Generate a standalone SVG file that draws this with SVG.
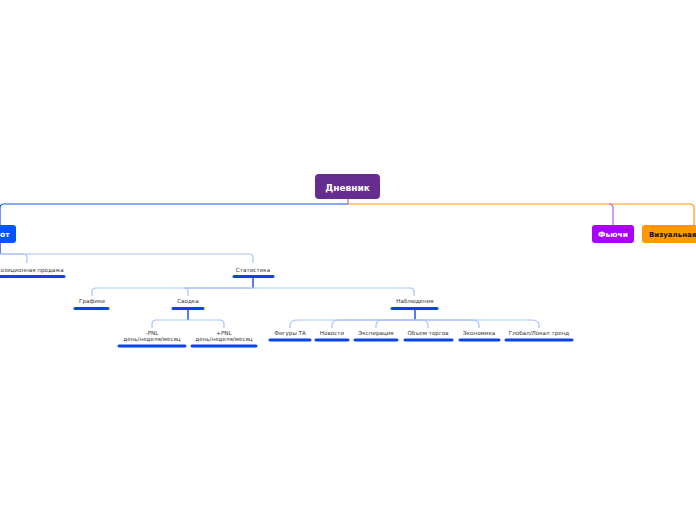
<svg xmlns="http://www.w3.org/2000/svg" width="696" height="520" viewBox="0 0 696 520">
<style>
.lbl{font-family:"DejaVu Sans",Verdana,sans-serif;font-size:5.6px;fill:#333;text-anchor:middle}
.bar{stroke:#0b45e8;stroke-width:3;stroke-linecap:round}
.lc{fill:none;stroke:#a8c0f8;stroke-width:1.2}
.dc{fill:none;stroke:#0b45e8;stroke-width:1.4}
.bt{font-family:"DejaVu Sans",Verdana,sans-serif;font-weight:bold;font-size:7.5px}
</style>
<rect width="696" height="520" fill="#fff"/>
<g id="connectors">
<path d="M348,199 V204" stroke="#c0707a" stroke-width="1.2" fill="none"/>
<path d="M348,204 H4 Q0,204 0,208 V225" fill="none" stroke="#1050f0" stroke-width="1.2"/>
<path d="M348,204 H690 Q694,204 694,208 V225" fill="none" stroke="#ff9900" stroke-width="1.2"/>
<path d="M609,204 Q613,204 613,208 V225" fill="none" stroke="#cc77ff" stroke-width="1.5"/>
<path d="M0,243 V254" class="dc"/>
<path d="M0,254 H23 Q27,254 27,258 V263" class="lc"/>
<path d="M0,254 H249 Q253,254 253,258 V263" class="lc"/>
<path d="M253,277 V288" class="dc"/>
<path d="M253,288 H96 Q92,288 92,292 V296" class="lc"/>
<path d="M253,288 H184 Q188,288 188,292 V296" class="lc"/>
<path d="M253,288 H410 Q414,288 414,292 V296" class="lc"/>
<path d="M188,309 V320" class="dc"/>
<path d="M188,320 H156 Q152,320 152,324 V328" class="lc"/>
<path d="M188,320 H220 Q224,320 224,324 V328" class="lc"/>
<path d="M415,309 V320" class="dc"/>
<path d="M415,320 H298 Q290,320 290,325 V328" class="lc"/>
<path d="M415,320 H340 Q332,320 332,325 V328" class="lc"/>
<path d="M415,320 H384 Q376,320 376,325 V328" class="lc"/>
<path d="M415,320 H420 Q428,320 428,325 V328" class="lc"/>
<path d="M415,320 H471 Q479,320 479,325 V328" class="lc"/>
<path d="M415,320 H531 Q539,320 539,325 V328" class="lc"/>
</g>
<g id="root">
<rect x="315" y="174" width="65" height="25" rx="4" fill="#662d91"/>
<text x="347.5" y="190.5" text-anchor="middle" fill="#fff" class="bt" style="font-size:9px">Дневник</text>
</g>
<g id="node-ot">
<rect x="-10" y="225" width="26" height="18" rx="3" fill="#0055ff"/>
<text x="0" y="237" fill="#fff" class="bt">от</text>
</g>
<g id="node-futures">
<rect x="592" y="225" width="42" height="18" rx="3" fill="#aa00ff"/>
<text x="613" y="237" text-anchor="middle" fill="#fff" class="bt">Фьючи</text>
</g>
<g id="node-visual">
<rect x="642" y="225" width="70" height="18" rx="3" fill="#ff9900"/>
<text x="649" y="237" fill="#111" class="bt" style="font-size:7px">Визуальная</text>
</g>
<g id="node-pos">
<text x="0.5" y="272" class="lbl" style="text-anchor:start">озиционная продажа</text>
<line x1="0" y1="276.5" x2="64" y2="276.5" class="bar"/>
</g>
<g id="node-stat">
<text x="253" y="272" class="lbl">Статистика</text>
<line x1="234" y1="276.5" x2="273" y2="276.5" class="bar"/>
</g>
<g id="node-graphs">
<text x="92" y="303" class="lbl">Графики</text>
<line x1="75" y1="308.5" x2="108" y2="308.5" class="bar"/>
</g>
<g id="node-summary">
<text x="188" y="303" class="lbl">Сводка</text>
<line x1="173" y1="308.5" x2="203" y2="308.5" class="bar"/>
</g>
<g id="node-obs">
<text x="415" y="303" class="lbl">Наблюдения</text>
<line x1="392" y1="308.5" x2="437" y2="308.5" class="bar"/>
</g>
<g id="node-minus-pnl">
<text x="152" y="335" class="lbl">-PNL</text>
<text x="152" y="341" class="lbl">день/неделя/месяц</text>
<line x1="119" y1="346" x2="185" y2="346" class="bar"/>
</g>
<g id="node-plus-pnl">
<text x="224" y="335" class="lbl">+PNL</text>
<text x="224" y="341" class="lbl">день/неделя/месяц</text>
<line x1="192" y1="346" x2="256" y2="346" class="bar"/>
</g>
<g id="node-ta">
<text x="290" y="335" class="lbl">Фигуры ТА</text>
<line x1="270" y1="340" x2="310" y2="340" class="bar"/>
</g>
<g id="node-news">
<text x="332" y="335" class="lbl">Новости</text>
<line x1="316" y1="340" x2="348" y2="340" class="bar"/>
</g>
<g id="node-exp">
<text x="376" y="335" class="lbl">Экспирация</text>
<line x1="355" y1="340" x2="397" y2="340" class="bar"/>
</g>
<g id="node-volume">
<text x="428" y="335" class="lbl">Объем торгов</text>
<line x1="405" y1="340" x2="452" y2="340" class="bar"/>
</g>
<g id="node-econ">
<text x="479" y="335" class="lbl">Экономика</text>
<line x1="460" y1="340" x2="499" y2="340" class="bar"/>
</g>
<g id="node-trend">
<text x="539" y="335" class="lbl">Глобал/Локал тренд</text>
<line x1="506" y1="340" x2="572" y2="340" class="bar"/>
</g>
</svg>
